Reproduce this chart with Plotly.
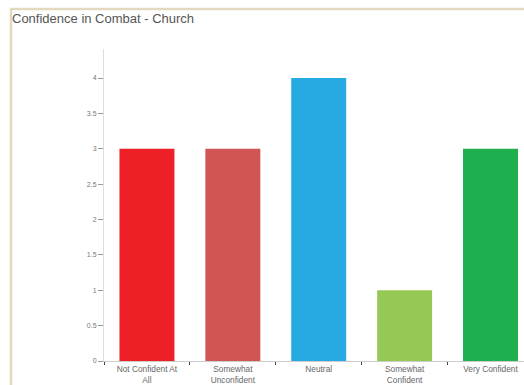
import plotly.graph_objects as go

categories = ["Not Confident At<br>All", "Somewhat<br>Unconfident", "Neutral",
              "Somewhat<br>Confident", "Very Confident"]
counts = [3, 3, 4, 1, 3]
bar_colors = ["#ED1F27", "#D05553", "#27AAE1", "#96C856", "#20AF4F"]
y_ticks = [0, 0.5, 1, 1.5, 2, 2.5, 3, 3.5, 4]

W, H = 524, 385
L, R, T, B = 104, 0, 49, 24
pw, ph = W - L - R, H - T - B

def px_x(x):
    return (x - L) / pw

def px_y(y):
    return (H - B - y) / ph

fig = go.Figure(go.Bar(
    x=categories, y=counts, marker=dict(color=bar_colors, line=dict(width=0)),
    width=0.64,
))

frame = "#E3D9BE"
fig.update_layout(
    width=W, height=H,
    margin=dict(l=L, r=R, t=T, b=B),
    paper_bgcolor="white", plot_bgcolor="white",
    font=dict(family="Liberation Sans, Arial, sans-serif", color="#666666", size=8),
    title=dict(text="Confidence in Combat - Church", x=12 / W, xref="container",
               xanchor="left", y=1 - 18 / H, yref="container", yanchor="middle",
               font=dict(size=13, color="#555555")),
    showlegend=False,
    bargap=0.36,
    xaxis=dict(range=[-0.5, 4.39], showgrid=False, showline=True, linecolor="#CCCCCC",
               linewidth=1, ticks="outside", tickson="boundaries", ticklen=3,
               tickcolor="#444444", tickfont=dict(size=8.3, color="#666666"),
               fixedrange=True),
    yaxis=dict(range=[0, 4.41], tickvals=y_ticks, showgrid=False, zeroline=False,
               showline=True, linecolor="#DDDDDD", linewidth=1, ticks="outside",
               ticklen=5, tickcolor="#999999", tickfont=dict(size=7, color="#777777"),
               fixedrange=True),
    shapes=[
        dict(type="line", xref="paper", yref="paper", x0=px_x(10), x1=px_x(W + 5),
             y0=px_y(9), y1=px_y(9), line=dict(color=frame, width=2.5)),
        dict(type="line", xref="paper", yref="paper", x0=px_x(11), x1=px_x(11),
             y0=px_y(9), y1=px_y(H + 5), line=dict(color=frame, width=2.5)),
    ],
)

fig.write_html("out.html", config={"displayModeBar": False})
